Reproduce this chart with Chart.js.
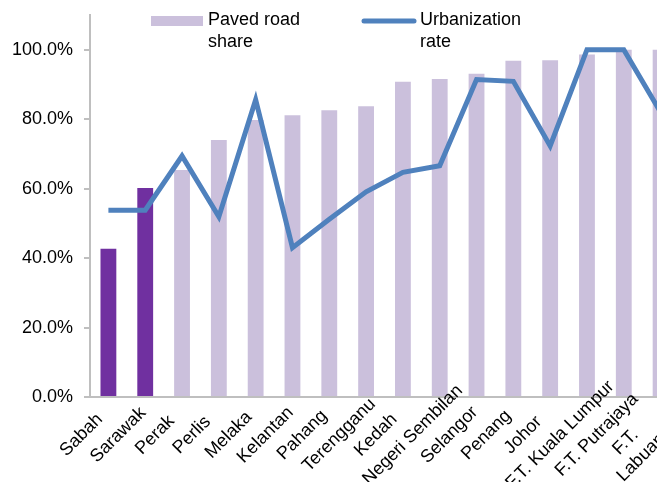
<!DOCTYPE html>
<html>
<head>
<meta charset="utf-8">
<script src="https://cdn.jsdelivr.net/npm/chart.js@4"></script>
<style>
  html, body { margin: 0; padding: 0; overflow: hidden; background: #fff; }
  #wrap { position: absolute; left: 0; top: 0; width: 690px; height: 482px; }
</style>
</head>
<body>
<div id="wrap"><canvas id="ItemB1"></canvas></div>
<script>
var states = ["Sabah", "Sarawak", "Perak", "Perlis", "Melaka", "Kelantan", "Pahang",
    "Terengganu", "Kedah", "Negeri Sembilan", "Selangor", "Penang", "Johor",
    "F.T. Kuala Lumpur", "F.T. Putrajaya", ["F.T.", "Labuan"]];

// percent values
var pavedRoad = [42.7, 60.2, 65.4, 74.0, 79.8, 81.1, 82.6, 83.7, 90.8, 91.6, 93.1, 96.8, 97.0, 98.6, 100, 100];
var urbanRate = [53.8, 53.8, 69.4, 51.9, 85.6, 43.0, 51.2, 59.1, 64.7, 66.6, 91.4, 90.9, 72.3, 100, 100, 82.0];

var darkBar = "#7030A0";
var lightBar = "#CBC0DC";
var lineBlue = "#4F81BD";
var fontFamily = "'Liberation Sans', Arial, sans-serif";

var barColors = states.map(function(s, i) {
    return i < 2 ? darkBar : lightBar;
});

var legendPlugin = {
    id: "twoLineLegend",
    afterDraw: function(chart) {
        var c = chart.ctx;
        c.save();
        c.font = "18px " + fontFamily;
        c.textBaseline = "middle";
        c.textAlign = "left";
        // bar item
        c.fillStyle = lightBar;
        c.fillRect(151, 16, 52, 10);
        c.fillStyle = "#000";
        c.fillText("Paved road", 208, 20);
        c.fillText("share", 208, 42);
        // line item
        c.strokeStyle = lineBlue;
        c.lineWidth = 5;
        c.lineCap = "round";
        c.beginPath();
        c.moveTo(364, 21);
        c.lineTo(414, 21);
        c.stroke();
        c.fillText("Urbanization", 420, 20);
        c.fillText("rate", 420, 42);
        c.restore();
    }
};

// excel-style rotated category labels, centred on a point below-left of each tick
var xLabelPlugin = {
    id: "centredXLabels",
    afterDraw: function(chart) {
        var c = chart.ctx;
        var xs = chart.scales.x;
        var lh = 22;
        c.save();
        c.font = "18px " + fontFamily;
        c.fillStyle = "#000";
        c.textAlign = "center";
        c.textBaseline = "middle";
        chart.data.labels.forEach(function(lbl, i) {
            var px = xs.getPixelForTick(i);
            var lines = Array.isArray(lbl) ? lbl : [lbl];
            var cx = px - 27, cy = xs.top + 38;
            if (lines.length > 1) { cx = px - 35; cy = xs.top + 45; }
            c.save();
            c.translate(cx, cy);
            c.rotate(-Math.PI / 4);
            lines.forEach(function(t, j) {
                c.fillText(t, 0, j * lh);
            });
            c.restore();
        });
        c.restore();
    }
};

var ctx = document.getElementById("ItemB1").getContext("2d");

var myChart = new Chart(ctx, {
    data: {
        labels: states,
        datasets: [
            {
                type: "line",
                label: "Urbanization rate",
                data: urbanRate,
                borderColor: lineBlue,
                borderWidth: 5,
                pointRadius: 0,
                tension: 0,
                order: 0
            },
            {
                type: "bar",
                label: "Paved road share",
                data: pavedRoad,
                backgroundColor: barColors,
                barPercentage: 0.43,
                categoryPercentage: 1,
                order: 1
            }
        ]
    },
    options: {
        responsive: true,
        maintainAspectRatio: false,
        animation: false,
        layout: { padding: { top: 15, left: 0, right: 11, bottom: 0 } },
        plugins: {
            legend: { display: false },
            tooltip: { enabled: false }
        },
        scales: {
            x: {
                grid: { display: false },
                border: { display: true, color: "#BFBFBF", width: 2 },
                ticks: { display: false, autoSkip: false },
                afterFit: function(scale) {
                    scale.height = 85;
                    scale.paddingLeft = 0;
                    scale.paddingRight = 0;
                }
            },
            y: {
                min: 0,
                max: 110,
                grid: { drawOnChartArea: false, drawTicks: true, tickLength: 6, color: "#BFBFBF", lineWidth: 2 },
                border: { display: true, color: "#BFBFBF", width: 2 },
                ticks: {
                    stepSize: 20,
                    includeBounds: false,
                    color: "#000",
                    padding: 11,
                    font: { family: fontFamily, size: 18 },
                    callback: function(v) { return v.toFixed(1) + "%"; }
                },
                afterFit: function(scale) {
                    scale.width = 90;
                    scale.paddingTop = 0;
                    scale.paddingBottom = 0;
                }
            }
        }
    },
    plugins: [legendPlugin, xLabelPlugin]
});
</script>
</body>
</html>
